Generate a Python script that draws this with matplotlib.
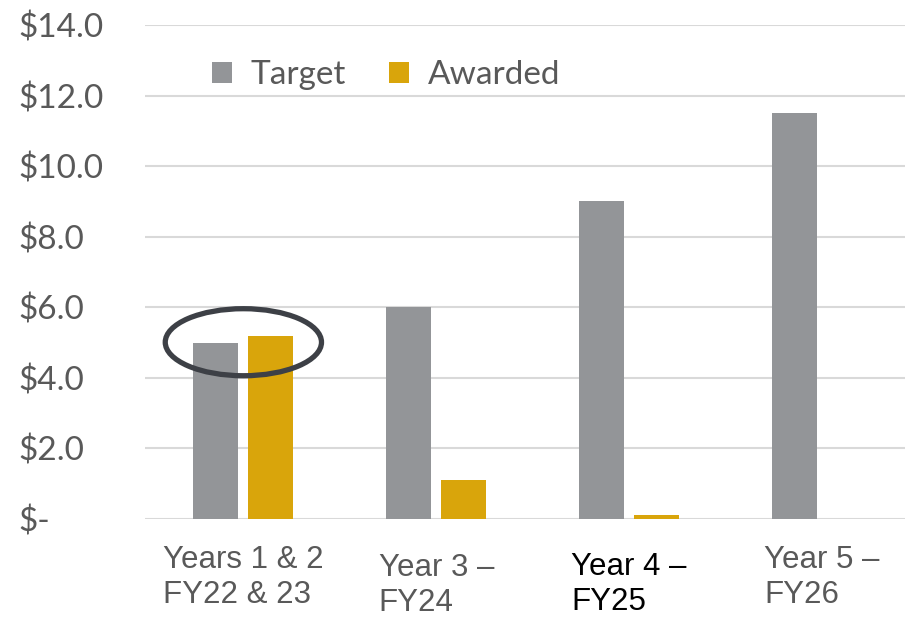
import matplotlib
matplotlib.use("Agg")
import matplotlib.pyplot as plt
from matplotlib.patches import Ellipse
import matplotlib.transforms as mtransforms
import numpy as np

categories = ["Years 1 & 2\nFY22 & 23", "Year 3 –\nFY24", "Year 4 –\nFY25", "Year 5 –\nFY26"]
target = [5.0, 6.0, 9.0, 11.5]
awarded = [5.2, 1.1, 0.1, 0.0]
yticks = [0, 2, 4, 6, 8, 10, 12, 14]
ytick_labels = ["$-", "$2.0", "$4.0", "$6.0", "$8.0", "$10.0", "$12.0", "$14.0"]

c_target = "#939598"
c_awarded = "#D9A50B"
c_text = "#595959"

fig = plt.figure(figsize=(9.07, 6.18), dpi=100)
ax = fig.add_axes([145/907, 1-519/618, 760/907, 494/618])

x = np.arange(len(categories))
w = 0.233
off = 0.1425
ax.bar(x - off, target, w, color=c_target, label="Target", zorder=3)
aw_x = [xi + off for xi, v in zip(x, awarded) if v > 0]
aw_v = [v for v in awarded if v > 0]
ax.bar(aw_x, aw_v, w, color=c_awarded, label="Awarded", zorder=3)

ax.set_xlim(-0.51, 3.43)
ax.set_ylim(0, 14)
ax.set_yticks(yticks)
ax.set_yticklabels(ytick_labels, fontfamily="Lato", fontsize=24, color=c_text, ha="left")
ax.tick_params(axis="y", length=0, pad=91.4)
ax.set_xticks([])
ax.grid(axis="y", color="#d9d9d9", linewidth=1.5, zorder=0)
for s in ax.spines.values():
    s.set_visible(False)

# category labels
label_colors = [c_text, c_text, "#000000", c_text]
label_dy = [-26, -34, -33, -26]  # pixel offsets from axis
for i, (lab, col, dy) in enumerate(zip(categories, label_colors, label_dy)):
    tr = ax.get_xaxis_transform() + mtransforms.ScaledTranslation(0, dy/100, fig.dpi_scale_trans)
    ax.text(x[i], 0, lab, transform=tr, ha="center", va="top", multialignment="left",
            fontfamily="Liberation Sans", fontsize=22.5, color=col, linespacing=1.22)

# ellipse highlight
ell = Ellipse((0, 5.01), 0.81, 1.9, fill=False, edgecolor="#3d4046", linewidth=3.8, zorder=4)
ax.add_patch(ell)

leg = ax.legend(loc="upper left", bbox_to_anchor=(54/760, 1-22/494), ncol=2, frameon=False,
                prop={"family": "Lato", "size": 24}, handlelength=0.6, handleheight=0.6,
                handletextpad=0.55, columnspacing=1.3, borderaxespad=0)
for t in leg.get_texts():
    t.set_color(c_text)

fig.savefig("out.png", dpi=100)
